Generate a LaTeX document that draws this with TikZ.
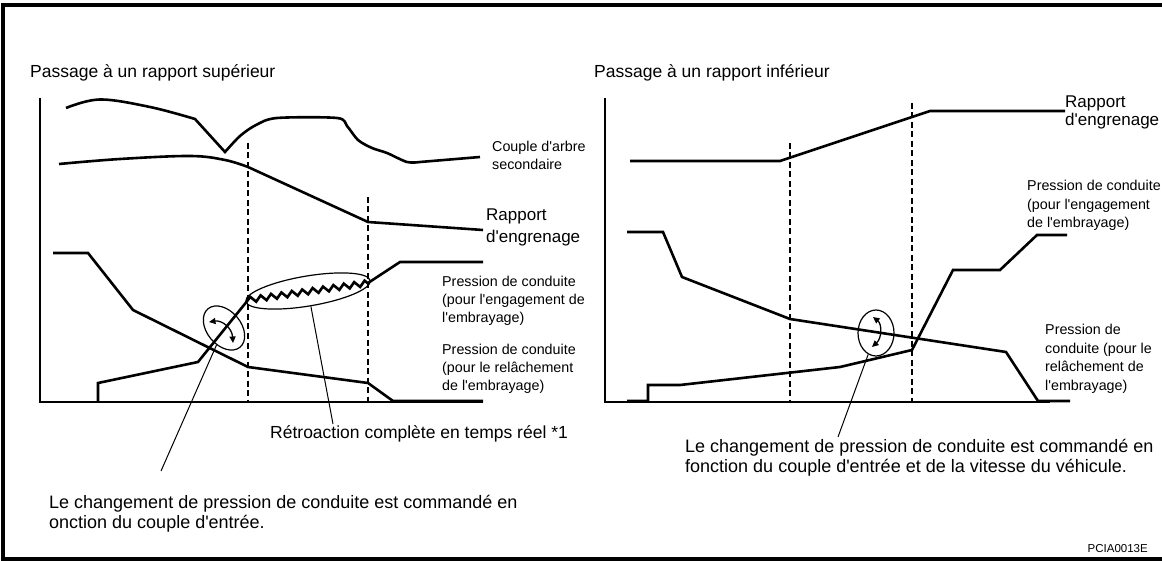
\documentclass[tikz,border=0pt]{standalone}
\usepackage{fontspec}
\setmainfont{Liberation Sans}
\usetikzlibrary{shapes.geometric,decorations.pathmorphing,arrows.meta}
\newcommand\aq{\textquotesingle}
\begin{document}
\begin{tikzpicture}[x=1pt,y=-1pt,
  curve/.style={line width=2.6pt, line join=miter},
  axis/.style={line width=1.3pt},
  guide/.style={line width=1.2pt, dash pattern=on 6pt off 3.5pt},
  leader/.style={line width=1pt},
  ell/.style={ellipse, draw, line width=1.2pt, inner sep=0pt},
  dblarrow/.style={line width=1.3pt, {Triangle[length=6.5pt,width=6pt]}-{Triangle[length=6.5pt,width=6pt]}},
  bigtxt/.style={font=\fontsize{17.5}{20}\selectfont, anchor=base west, inner sep=0pt},
  captxt/.style={font=\fontsize{18}{20}\selectfont, anchor=base west, inner sep=0pt},
  ratiotxt/.style={font=\fontsize{17}{20}\selectfont, anchor=base west, inner sep=0pt},
  smalltxt/.style={font=\fontsize{14.3}{18}\selectfont, anchor=base west, inner sep=0pt},
  tinytxt/.style={font=\fontsize{11.5}{13}\selectfont, anchor=base east, inner sep=0pt}]
\useasboundingbox (0,0) rectangle (1162,561);
% frame
\draw[line width=3.5pt] (1162,5) -- (3,5) -- (3,559) -- (1162,559);

% ===== Left graph =====
\node[bigtxt] (tL) at (30,78) {Passage à un rapport supérieur};
\draw[axis] (40,98) -- (40,402) -- (483,402);
\draw[guide] (248,143) -- (248,402);
\draw[guide] (368,197) -- (368,402);
% output shaft torque
\draw[curve] plot[smooth, tension=0.6] coordinates {(66,108) (100,99.5) (150,107) (195,119)}
  -- (225,152)
  -- plot[smooth, tension=0.5] coordinates {(225,152) (240,136) (256,125) (277,118) (337,118) (347,126) (358,140) (372,148) (387,153) (407,162) (420,162)}
  -- (480,157);
% gear ratio
\draw[curve] plot[smooth, tension=0.6] coordinates {(59,164) (120,159) (190,156) (225,160) (248,167)}
  -- (368,222) -- (483,230);
% line pressure (engagement)
\draw[curve] (98,402) -- (98,383) -- (198,362) -- (248,300);
\draw[curve, decorate, decoration={zigzag, segment length=10.5pt, amplitude=2.8pt}] (248,300) -- (368,283);
\draw[curve] (368,283) -- (400,262) -- (483,262);
% line pressure (release)
\draw[curve] (53,253) -- (88,253) -- (133,310) -- (248,367) -- (368,383) -- (393,401) -- (483,401);
% ellipses
\node[ell, minimum width=126pt, minimum height=30pt, rotate=9.5] (ezig) at (308,291) {};
\node[ell, minimum width=50pt, minimum height=34pt, rotate=-50] (ecl) at (224,328) {};
\draw[dblarrow] (209,322) .. controls (222,320) and (232,328) .. (233,343);
% leaders
\coordinate (cle) at (161,471);
\coordinate (rle) at (333,424);
\draw[leader] (cle) -- (ecl);
\draw[leader] (rle) -- (ezig);
% labels
\node[smalltxt] (lc1) at (492,151.5) {Couple d\aq arbre};
\node[smalltxt] (lc2) at (492,169.5) {secondaire};
\node[ratiotxt] (lr1) at (486,221) {Rapport};
\node[ratiotxt] (lr2) at (486,243) {d\aq engrenage};
\node[smalltxt] (le1) at (442,286.5) {Pression de conduite};
\node[smalltxt] (le2) at (442,304.5) {(pour l\aq engagement de};
\node[smalltxt] (le3) at (442,322.5) {l\aq embrayage)};
\node[smalltxt] (ll1) at (442,354.5) {Pression de conduite};
\node[smalltxt] (ll2) at (442,372.5) {(pour le relâchement};
\node[smalltxt] (ll3) at (442,390.5) {de l\aq embrayage)};
\node[bigtxt] (retro) at (270,438) {Rétroaction complète en temps réel *1};
\node[captxt] (cL1) at (49,508) {Le changement de pression de conduite est commandé en};
\node[captxt] (cL2) at (49,528) {onction du couple d\aq entrée.};

% ===== Right graph =====
\node[bigtxt] (tR) at (594,78) {Passage à un rapport inférieur};
\draw[axis] (605,98) -- (605,402) -- (1050,402);
\draw[guide] (790,143) -- (790,402);
\draw[guide] (912,103) -- (912,402);
% gear ratio
\draw[curve] (630,161) -- (780,161) -- (930,111) -- (1065,111);
% line pressure (release)
\draw[curve] (627,232) -- (663,232) -- (682,277) -- (790,319) -- (1006,352) -- (1038,401) -- (1070,401);
% line pressure (engagement)
\draw[curve] (627,401) -- (648,401) -- (648,385) -- (680,385) -- (840,367) -- (912,350) -- (953,270) -- (1000,270) -- (1037,235) -- (1067,235);
% ellipse
\node[ell, minimum width=36pt, minimum height=46pt] (ecr) at (876,333) {};
\draw[dblarrow] (873,317) .. controls (882,324) and (882,338) .. (872,347);
\coordinate (dle) at (838,437);
\draw[leader] (dle) -- (ecr);
% labels
\node[ratiotxt] (rr1) at (1065,108) {Rapport};
\node[ratiotxt] (rr2) at (1065,126) {d\aq engrenage};
\node[smalltxt] (re1) at (1027,190.5) {Pression de conduite};
\node[smalltxt] (re2) at (1027,209.5) {(pour l\aq engagement};
\node[smalltxt] (re3) at (1027,227.5) {de l\aq embrayage)};
\node[smalltxt] (rl1) at (1045,334.5) {Pression de};
\node[smalltxt] (rl2) at (1045,353.5) {conduite (pour le};
\node[smalltxt] (rl3) at (1045,371.5) {relâchement de};
\node[smalltxt] (rl4) at (1045,390.5) {l\aq embrayage)};
\node[captxt] (cR1) at (685,452) {Le changement de pression de conduite est commandé en};
\node[captxt] (cR2) at (685,472) {fonction du couple d\aq entrée et de la vitesse du véhicule.};
\node[tinytxt] (code) at (1148,552) {PCIA0013E};
\end{tikzpicture}
\end{document}
